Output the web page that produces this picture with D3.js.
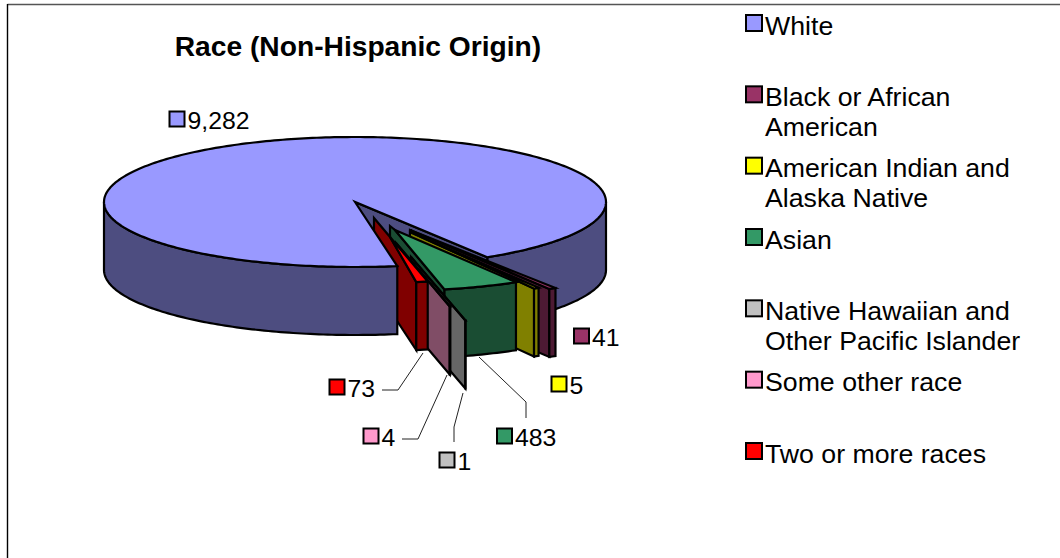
<!DOCTYPE html>
<html><head><meta charset="utf-8">
<script src="https://cdnjs.cloudflare.com/ajax/libs/d3/7.8.5/d3.min.js"></script>
<style>html,body{margin:0;padding:0;background:#fff}svg{display:block}text{font-family:"Liberation Sans",Arial,sans-serif;fill:#000}</style>
</head><body><svg id="c" width="1060" height="558"></svg>
<script>
// ---- data ----
const titleText = "Race (Non-Hispanic Origin)";
const categories = ["White","Black or African American","American Indian and Alaska Native","Asian","Native Hawaiian and Other Pacific Islander","Some other race","Two or more races"];
const values = [9282,41,5,483,1,4,73];
const topColors = ["#9999FF","#993366","#FFFF00","#339966","#C0C0C0","#FF99CC","#FF0000"];
const sideColors = ["#4D4D80","#4D1A33","#808000","#1A4D33","#666666","#804D66","#800000"];

// ---- layout ----
const W=1060,H=558, cx=355, cy=202, rx=251, ry=65, depth=68, firstAngle=80.3;
const legendBreak=[0,3,3,0,3,0,0];
// per-slice explode geometry (offset from centre, radial stretch, inset of the top apex, minimum drawn sweep in degrees)
const explode=[
 {dx:0,dy:0,sx:1,sy:1,ix:0,iy:0,min:0},
 {dx:55,dy:28,sx:1.1,sy:1.05,ix:0,iy:0,min:0},
 {dx:55,dy:30,sx:1,sy:1,ix:0,iy:0,min:1.2},
 {dx:35,dy:24,sx:1,sy:1,ix:5,iy:4,min:0},
 {dx:56,dy:55,sx:1,sy:1,ix:0,iy:0,min:0},
 {dx:41,dy:41,sx:1,sy:1,ix:0,iy:0,min:0},
 {dx:19,dy:16,sx:1,sy:1,ix:16,iy:19,min:0}
];
const labelPos=[{x:177,y:119},{x:581.5,y:336},{x:559,y:384},{x:504.5,y:436},{x:447,y:460},{x:371,y:436},{x:337,y:387}];
const leaders=[null,null,null,
 {elbow:[[526,418],[526,402]],end:[479,357]},
 {elbow:[[454,442],[454,427]],end:[463,393]},
 {elbow:[[402,439],[418,439]],end:[447,375]},
 {elbow:[[382,390],[398,390]],end:[423,353]}];

const svg=d3.select("#c");
const sX=d3.scaleLinear().domain([-1,1]).range([cx-rx,cx+rx]);
const sY=d3.scaleLinear().domain([-1,1]).range([cy-ry,cy+ry]);
const rad=d=>d*Math.PI/180;
const pie=d3.pie().sort(null).startAngle(rad(firstAngle+90)).endAngle(rad(firstAngle+90+360));
const arcs=pie(values).map((a,i)=>{
  let a0=a.startAngle-Math.PI/2,a1=a.endAngle-Math.PI/2;
  const m=rad(explode[i].min);
  if(a1-a0<m){const c=(a0+a1)/2;a0=c-m/2;a1=c+m/2;}
  return {a0,a1,i};
});
const P=(g,a,r=1)=>[sX(Math.cos(a)*r*g.sx)+g.dx,sY(Math.sin(a)*r*g.sy)+g.dy];
const samples=(a0,a1)=>d3.range(0,1.0001,1/Math.max(2,Math.ceil(Math.abs(a1-a0)/rad(1)))).map(t=>a0+(a1-a0)*t);
const line=d3.line();
const drop=p=>[p[0],p[1]+depth];
const poly=(pts,fill,g=svg)=>g.append("path").attr("d",line(pts)+"Z").attr("fill",fill)
  .attr("stroke","#000").attr("stroke-width",2.2).attr("stroke-linejoin","miter").attr("stroke-miterlimit",6);

function side(a0,a1,i){
  const g=explode[i],top=samples(a0,a1).map(a=>P(g,a));
  poly(top.concat(top.slice().reverse().map(drop)),sideColors[i]);
}
function topFace(i,a0,a1){
  const g=explode[i],c=P(g,0,0),apex=[c[0]+g.ix,c[1]+g.iy];
  poly([apex].concat(samples(a0,a1).map(a=>P(g,a))),topColors[i]);
}
// frame
svg.append("line").attr("x1",7.5).attr("y1",4.5).attr("x2",W).attr("y2",4.5).attr("stroke","#555").attr("stroke-width",1.4);
svg.append("line").attr("x1",7.5).attr("y1",4).attr("x2",7.5).attr("y2",H).attr("stroke","#000").attr("stroke-width",1.4);

// white: back right wall + visible cut wall
const w=arcs[0], TAU=2*Math.PI, g0=explode[0];
side(TAU,w.a1,0);
const wc=P(g0,0,0),we=P(g0,w.a1);
poly([wc,we,drop(we),drop(wc)],sideColors[0]);

// exploded slices back to front
arcs.slice(1).forEach(s=>{
  const g=explode[s.i],c=P(g,0,0),apex=[c[0]+g.ix,c[1]+g.iy],oL=P(g,s.a1);
  poly([c,apex,oL,drop(oL),drop(c)],sideColors[s.i]);
  side(s.a0,s.a1,s.i);
  topFace(s.i,s.a0,s.a1);
});
// white: front left wall and top
side(w.a0,Math.PI,0);
topFace(0,w.a0,w.a1);

// leaders
leaders.forEach(l=>{ if(!l) return;
  svg.append("path").attr("d",line(l.elbow.concat([l.end]))).attr("fill","none").attr("stroke","#222").attr("stroke-width",1);
});
// data labels
const fmt=d3.format(",");
values.forEach((v,i)=>{
  const p=labelPos[i];
  svg.append("rect").attr("x",p.x-7.5).attr("y",p.y-7.5).attr("width",15).attr("height",15).attr("fill",topColors[i]).attr("stroke","#000").attr("stroke-width",2);
  svg.append("text").attr("x",p.x+10.5).attr("y",p.y+9.7).attr("font-size",24.8).text(fmt(v));
});
// title
svg.append("text").attr("x",358).attr("y",56).attr("text-anchor","middle").attr("font-size",28.2).attr("font-weight","bold").text(titleText);
// legend
const ly=d3.scalePoint().domain(categories).range([23,451]);
categories.forEach((c,i)=>{
  const y=ly(c);
  svg.append("rect").attr("x",746).attr("y",y-8).attr("width",16).attr("height",16).attr("fill",topColors[i]).attr("stroke","#000").attr("stroke-width",2);
  const words=c.split(" "),b=legendBreak[i];
  const lines=b?[words.slice(0,b).join(" "),words.slice(b).join(" ")]:[c];
  const t=svg.append("text").attr("x",765).attr("y",y+11.5).attr("font-size",26.7);
  lines.forEach((s,k)=>t.append("tspan").attr("x",765).attr("dy",k?30.3:0).text(s));
});
</script></body></html>
